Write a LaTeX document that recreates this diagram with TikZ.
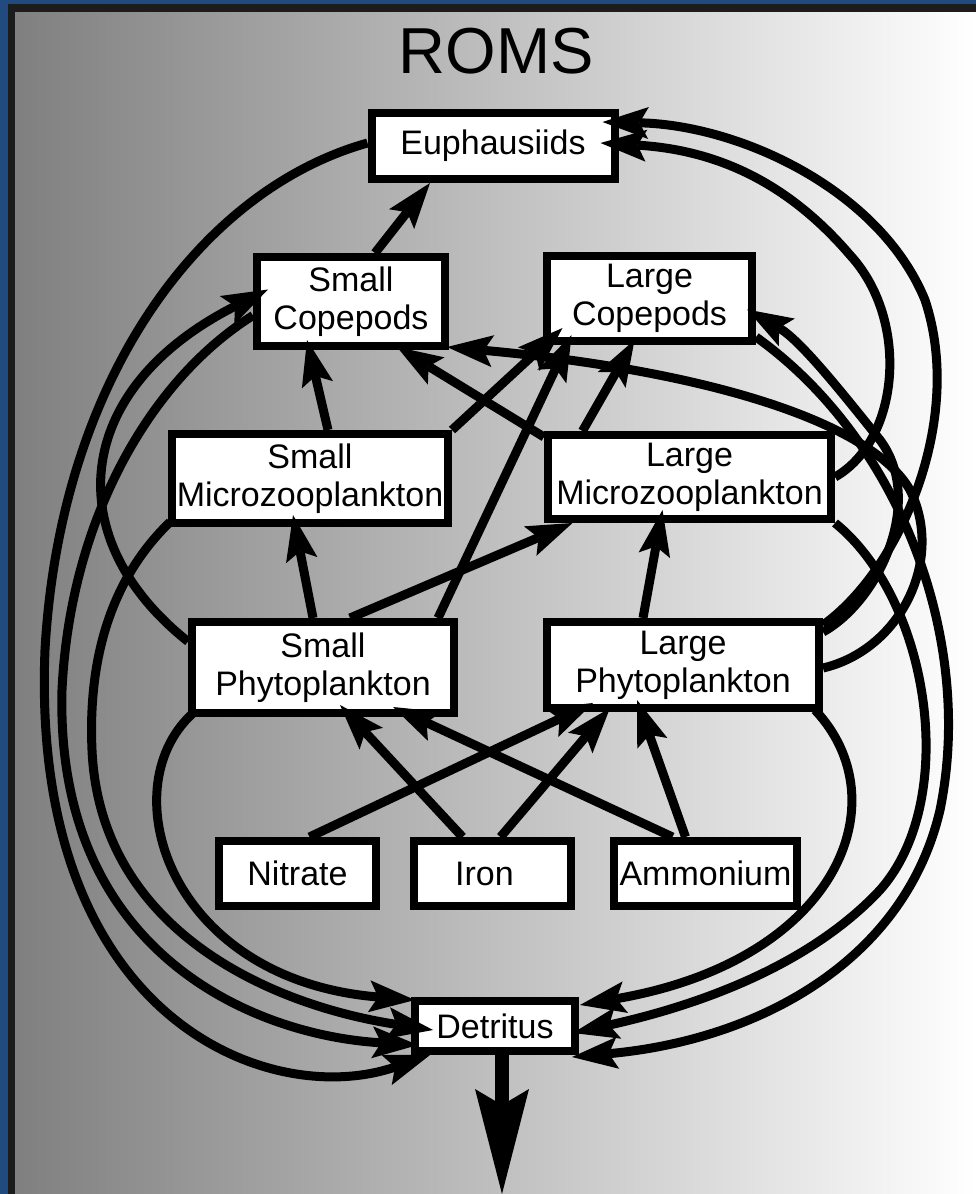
\documentclass[tikz,border=0pt]{standalone}
\usepackage{fontspec}
\setmainfont{Liberation Sans}
\usetikzlibrary{positioning, arrows.meta}

\definecolor{frameblue}{RGB}{33,74,126}
\definecolor{framedark}{RGB}{28,28,28}

\begin{document}
\begin{tikzpicture}[
  x=1pt, y=-1pt,
  font=\fontsize{34}{38}\selectfont,
  box/.style={draw, line width=8pt, fill=white, align=center, inner sep=0pt},
  arrow/.style={-{Stealth[length=46pt, width=32pt, inset=9pt, line width=0pt]}, line width=9pt},
  bigarrow/.style={-{Stealth[length=105pt, width=54pt, inset=16pt, line width=0pt]}, line width=14pt}
]

% ===== Background =====
\fill[frameblue] (0,0) rectangle (976,1194);
\fill[framedark] (8,4) rectangle (976,1194);
\shade[left color=black!50, right color=white] (15,12) rectangle (976,1194);
\useasboundingbox (0,0) rectangle (976,1194);

\node[font=\fontsize{65}{65}\selectfont] (title) at (496,51) {ROMS};

% ===== Zooplankton =====
\node[box, minimum width=243pt, minimum height=66pt] (eup) at (493,146) {Euphausiids};
\node[box, minimum width=188pt, minimum height=89pt] (smallcop) at (351,301.5) {Small\\Copepods};
\node[box, minimum width=205pt, minimum height=85pt] (largecop) at (649.5,298.5) {Large\\Copepods};
\node[box, minimum width=276pt, minimum height=89pt] (smallmicro) at (310,478.5) {Small\\Microzooplankton};
\node[box, minimum width=283pt, minimum height=84pt] (largemicro) at (689.5,477) {Large\\Microzooplankton};

% ===== Phytoplankton =====
\node[box, minimum width=262pt, minimum height=91pt] (smallphyto) at (323,667.5) {Small\\Phytoplankton};
\node[box, minimum width=272pt, minimum height=86pt] (largephyto) at (683,665) {Large\\Phytoplankton};

% ===== Nutrients =====
\node[box, minimum width=157pt, minimum height=65pt] (nitrate) at (297.5,873.5) {Nitrate};
\node[box, minimum width=157pt, minimum height=65pt, right=30pt of nitrate] (iron) {Iron\hspace{16pt}};
\node[box, minimum width=183pt, minimum height=65pt, right=35pt of iron] (ammonium) {Ammonium};

% ===== Detritus =====
\node[box, minimum width=160pt, minimum height=50pt] (detritus) at (495,1026) {Detritus};
\coordinate (sink) at (502,1194);

% ===== Grazing =====
\draw[arrow] ([xshift=24pt]smallcop.north) -- ([xshift=-63pt]eup.south);
\draw[arrow] ([xshift=18pt]smallmicro.north) -- ([xshift=-44pt,yshift=10pt]smallcop.south);
\draw[arrow] ([yshift=-6pt]largemicro.north west) -- ([xshift=46pt,yshift=3pt]smallcop.south);
\draw[arrow] (smallmicro.north east) -- ([xshift=-87pt,yshift=17pt]largecop.south);
\draw[arrow] ([xshift=115pt]smallphyto.north) -- ([xshift=-78pt,yshift=10pt]largecop.south);
\draw[arrow] ([xshift=-107pt]largemicro.north) -- ([xshift=-15pt,yshift=5pt]largecop.south);
\draw[arrow] ([xshift=-10pt]smallphyto.north) -- ([xshift=-17pt,yshift=12pt]smallmicro.south);
\draw[arrow] ([xshift=27pt]smallphyto.north) -- ([xshift=-117pt]largemicro.south);
\draw[arrow] ([xshift=-40pt]largephyto.north) -- ([xshift=-27pt,yshift=13pt]largemicro.south);

% ===== Uptake =====
\draw[arrow] ([xshift=12pt]nitrate.north) -- ([xshift=-90pt,yshift=9pt]largephyto.south);
\draw[arrow] ([xshift=-30pt]iron.north) -- ([xshift=17pt,yshift=12pt]smallphyto.south);
\draw[arrow] ([xshift=8pt]iron.north) -- ([xshift=-73pt,yshift=4pt]largephyto.south);
\draw[arrow] ([xshift=-33pt]ammonium.north) -- ([xshift=70pt,yshift=10pt]smallphyto.south);
\draw[arrow] ([xshift=-20pt]ammonium.north) -- ([xshift=-46pt,yshift=12pt]largephyto.south);

% ===== Left loops =====
\draw[arrow] ([yshift=26pt]smallphyto.west) .. controls (60,540) and (70,390) .. ([xshift=15pt,yshift=12pt]smallcop.west);
\draw[arrow] ([yshift=3pt]eup.west) .. controls (200,190) and (60,380) .. (45,650)
  .. controls (30,1020) and (270,1110) .. ([xshift=19pt,yshift=-29pt]detritus.west);
\draw[arrow] ([yshift=-14pt]smallcop.west) .. controls (150,380) and (70,520) .. (62,690)
  .. controls (55,950) and (250,1035) .. ([xshift=7pt,yshift=-19pt]detritus.west);
\draw[arrow] ([xshift=2pt,yshift=5pt]smallmicro.south west) .. controls (110,580) and (88,660) .. (92,750)
  .. controls (100,930) and (270,1005) .. ([xshift=22pt,yshift=-4pt]detritus.west);
\draw[arrow] ([xshift=4pt,yshift=3pt]smallphyto.south west) .. controls (110,790) and (170,980) .. ([xshift=4pt,yshift=26pt]detritus.west);

% ===== Right loops =====
\draw[arrow] ([yshift=-7pt]largephyto.north east) .. controls (900,570) and (965,420) .. (925,300)
  .. controls (880,190) and (740,125) .. ([xshift=-16pt,yshift=24pt]eup.east);
\draw[arrow] (largemicro.east) .. controls (900,440) and (910,320) .. (850,255)
  .. controls (790,185) and (720,150) .. ([xshift=-18pt,yshift=3pt]eup.east);
\draw[arrow] ([yshift=-14pt]largephyto.north east) .. controls (880,600) and (925,500) .. (880,440)
  .. controls (840,390) and (800,340) .. ([xshift=-9pt,yshift=-11pt]largecop.east);
\draw[arrow] ([yshift=-3pt]largephyto.east) .. controls (900,650) and (945,560) .. (910,490)
  .. controls (870,420) and (700,370) .. ([xshift=-2pt,yshift=3pt]smallcop.south east);
\draw[arrow] ([xshift=-8pt,yshift=2pt]largephyto.south east) .. controls (900,800) and (840,960) .. ([xshift=1pt,yshift=21pt]detritus.east);
\draw[arrow] (largemicro.south east) .. controls (930,600) and (960,800) .. (880,890)
  .. controls (810,965) and (700,1005) .. ([xshift=-6pt,yshift=-7pt]detritus.east);
\draw[arrow] ([yshift=8pt]largecop.south east) .. controls (900,440) and (975,640) .. (940,810)
  .. controls (905,960) and (760,1040) .. ([xshift=-7pt,yshift=-31pt]detritus.east);

% ===== Sinking =====
\draw[bigarrow] ([xshift=7pt]detritus.south) -- (sink);

\end{tikzpicture}
\end{document}
